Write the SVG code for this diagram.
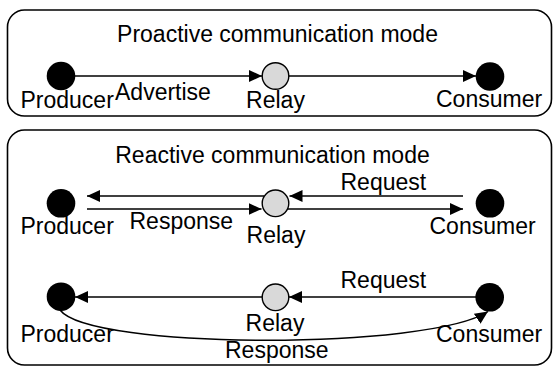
<svg xmlns="http://www.w3.org/2000/svg" width="553" height="367" viewBox="0 0 553 367">
  <style>
    .frame { fill: #ffffff; stroke: #000000; stroke-width: 1.6; }
    .end { fill: #000000; }
    .relay { fill: #d9d9d9; stroke: #000000; stroke-width: 1.4; }
    .edge { fill: none; stroke: #000000; stroke-width: 1.5; }
    text { font-family: "Liberation Sans", Arial, sans-serif; font-size: 23px; fill: #000000; }
    .mid { text-anchor: middle; }
  </style>
  <defs>
    <marker id="head" markerUnits="userSpaceOnUse" markerWidth="14" markerHeight="13" refX="13" refY="6" orient="auto">
      <path d="M0,0 L13,6 L0,12 z" fill="#000000"/>
    </marker>
  </defs>

  <!-- panel frames -->
  <rect class="frame" x="7.5" y="10" width="544" height="106" rx="17"/>
  <rect class="frame" x="7.5" y="130" width="544" height="235" rx="17"/>
  <text class="mid" x="277.5" y="42">Proactive communication mode</text>
  <text class="mid" x="272.5" y="163">Reactive communication mode</text>

  <!-- connectors -->
  <g id="connectors">
    <!-- proactive -->
    <line class="edge" x1="75" y1="76" x2="262" y2="76" marker-end="url(#head)"/>
    <line class="edge" x1="289" y1="76" x2="476" y2="76" marker-end="url(#head)"/>
    <text x="115" y="100">Advertise</text>

    <!-- reactive, through relay -->
    <line class="edge" x1="463" y1="196" x2="289.5" y2="196" marker-end="url(#head)"/>
    <line class="edge" x1="264" y1="196" x2="87" y2="196" marker-end="url(#head)"/>
    <line class="edge" x1="87" y1="209" x2="261.5" y2="209" marker-end="url(#head)"/>
    <line class="edge" x1="288" y1="209" x2="463" y2="209" marker-end="url(#head)"/>
    <text x="340.5" y="190">Request</text>
    <text x="129.5" y="229">Response</text>

    <!-- reactive, direct response -->
    <line class="edge" x1="476" y1="297" x2="289" y2="297" marker-end="url(#head)"/>
    <line class="edge" x1="262" y1="297" x2="75" y2="297" marker-end="url(#head)"/>
    <path class="edge" d="M60,310 C90,350 430,350 488,311.5" marker-end="url(#head)"/>
    <text x="340.5" y="288">Request</text>
    <text x="225" y="358">Response</text>
  </g>

  <!-- proactive nodes -->
  <g id="producer-1">
    <circle class="end" cx="61" cy="76" r="14.3"/>
    <text x="20.5" y="107.5">Producer</text>
  </g>
  <g id="relay-1">
    <circle class="relay" cx="275.5" cy="76" r="13.3"/>
    <text class="mid" x="275.5" y="107.5">Relay</text>
  </g>
  <g id="consumer-1">
    <circle class="end" cx="490" cy="76.5" r="14.3"/>
    <text x="436" y="107">Consumer</text>
  </g>

  <!-- reactive nodes, relayed response -->
  <g id="producer-2">
    <circle class="end" cx="61" cy="203.3" r="14.3"/>
    <text x="20.5" y="234">Producer</text>
  </g>
  <g id="relay-2">
    <circle class="relay" cx="275.5" cy="203.3" r="13.3"/>
    <text class="mid" x="276" y="243">Relay</text>
  </g>
  <g id="consumer-2">
    <circle class="end" cx="490" cy="203.3" r="14.3"/>
    <text x="429.5" y="234">Consumer</text>
  </g>

  <!-- reactive nodes, direct response -->
  <g id="producer-3">
    <circle class="end" cx="61" cy="296.7" r="14.3"/>
    <text x="20.5" y="341.5">Producer</text>
  </g>
  <g id="relay-3">
    <circle class="relay" cx="275.5" cy="297.3" r="13.3"/>
    <text class="mid" x="275" y="330.5">Relay</text>
  </g>
  <g id="consumer-3">
    <circle class="end" cx="489.7" cy="297.3" r="14.3"/>
    <text x="436" y="341.5">Consumer</text>
  </g>
</svg>
